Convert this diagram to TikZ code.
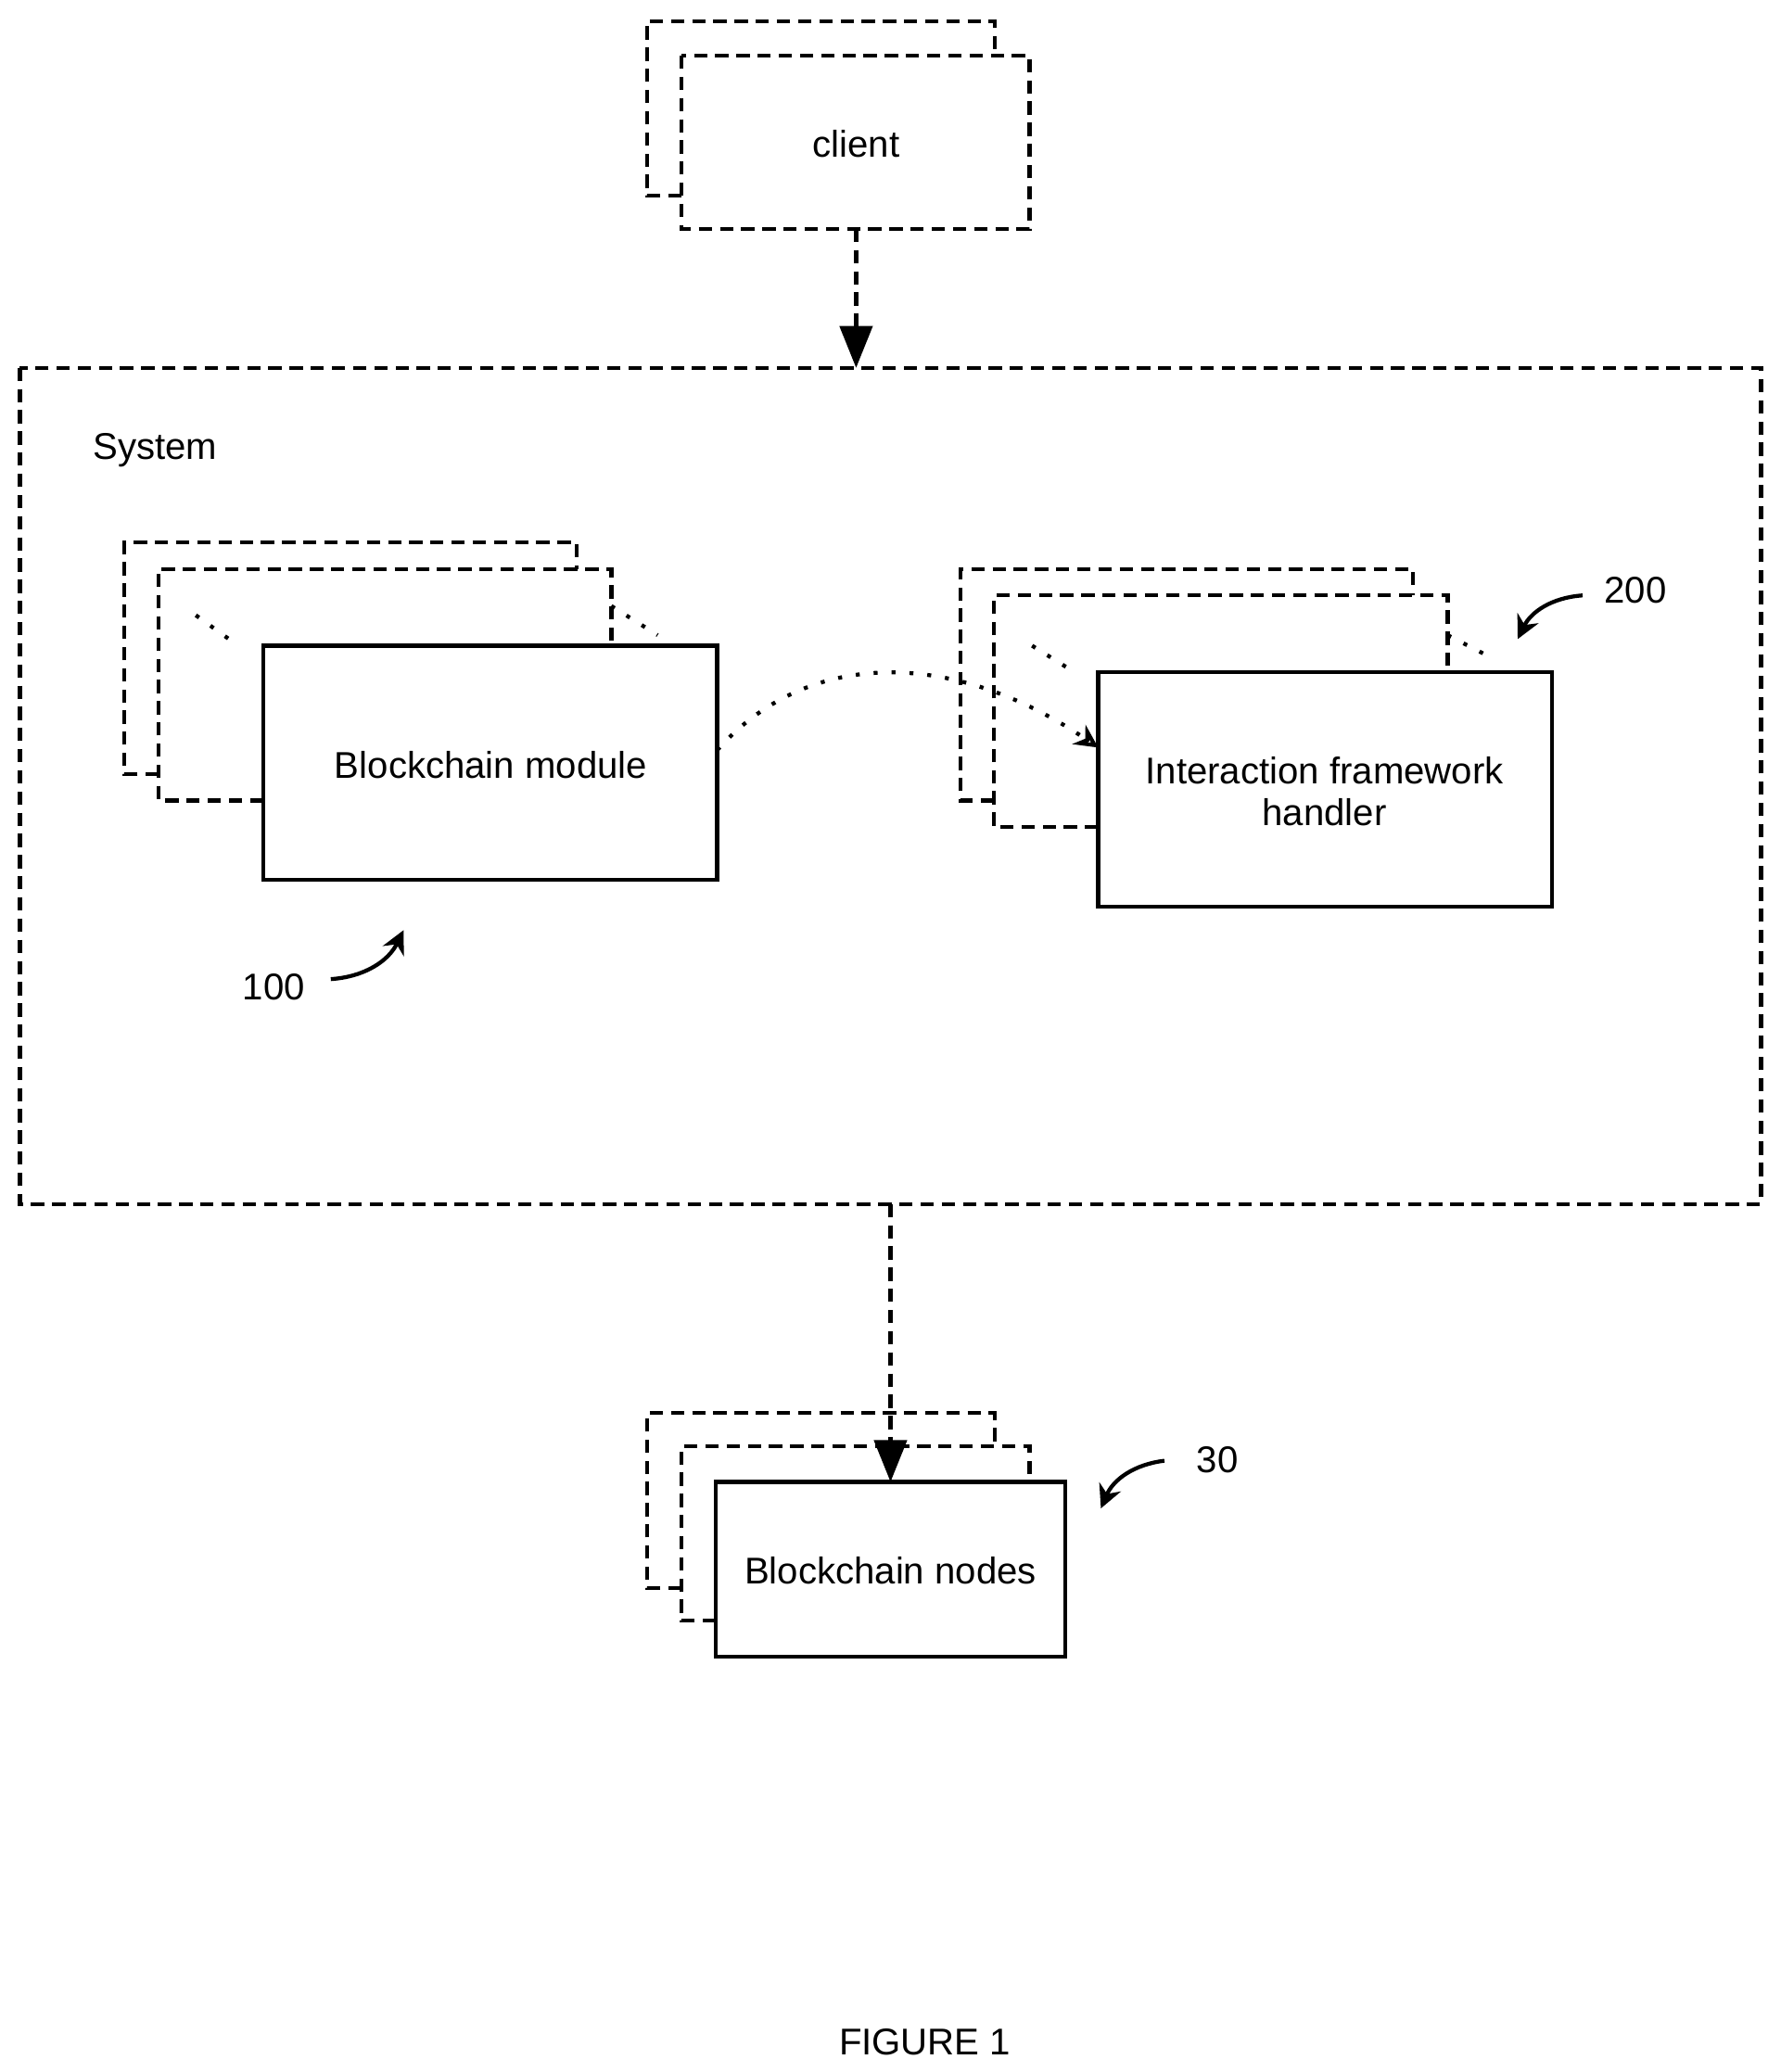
\documentclass[tikz,border=0pt]{standalone}
\usepackage{fontspec}
\setmainfont{Liberation Sans}
\usetikzlibrary{arrows.meta}
\begin{document}
\begin{tikzpicture}[x=0.01cm,y=-0.01cm,
 dsh/.style={line width=0.85pt,dash pattern=on 0.1cm off 0.06cm},
 sol/.style={line width=0.85pt},
 dot/.style={line width=0.85pt,dash pattern=on 0.85pt off 3pt},
 lbl/.style={font=\fontsize{8}{10}\selectfont,align=center},
 cur/.style={line width=0.85pt,-{Stealth[length=5pt,width=5pt]}}]
\useasboundingbox (0,0) rectangle (1346,1566);
% client
\draw[dsh] (515,148)--(489,148)--(489,16)--(752,16)--(752,42);
\draw[dsh] (515,42) rectangle (778,173);
\node[lbl] (client) at (647,109) {client};
\coordinate (cb) at (647,173);
% system
\draw[dsh] (15,278) rectangle (1331,910);
\coordinate (st) at (647,278);
\coordinate (sb) at (673,910);
\node[lbl,anchor=west] (sys) at (58,340) {System};
\draw[dsh,-{Triangle[length=9pt,width=7pt]}] (cb)--(st);
% blockchain module
\draw[dsh] (120,585)--(94,585)--(94,410)--(436,410)--(436,430);
\draw[dsh] (199,605)--(120,605)--(120,430)--(462,430)--(462,488);
\draw[dot] (148,465)--(180,488);
\draw[dot] (462,458)--(497,480);
\draw[sol,fill=white] (199,488) rectangle (542,665);
\node[lbl] (bm) at (371,578) {Blockchain module};
% interaction
\draw[dsh] (751,605)--(726,605)--(726,430)--(1068,430)--(1068,450);
\draw[dsh] (830,625)--(751,625)--(751,450)--(1094,450)--(1094,508);
\draw[dot] (780,488)--(812,508);
\draw[dot] (1094,480)--(1127,497);
\draw[sol] (830,508) rectangle (1173,685);
\node[lbl] (ifh) at (1001,598) {Interaction framework\\[-1pt]handler};
\coordinate (bmr) at (542,567);
\coordinate (ifl) at (830,565);
\draw[dot,-{Stealth[length=5pt,width=5pt,open]}] (bmr) .. controls (610,490) and (720,490) .. (ifl);
% labels
\node[lbl] (l200) at (1236,446) {200};
\draw[cur] (1196,450) to[bend right=30] (1147,483);
\node[lbl] (l100) at (207,746) {100};
\draw[cur] (250,740) to[bend right=30] (305,703);
% nodes
\draw[dsh] (515,1200)--(489,1200)--(489,1068)--(752,1068)--(752,1093);
\draw[dsh] (541,1225)--(515,1225)--(515,1093)--(778,1093)--(778,1120);
\draw[sol] (541,1120) rectangle (805,1252);
\node[lbl] (bn) at (673,1187) {Blockchain nodes};
\coordinate (bnt) at (673,1120);
\draw[dsh,-{Triangle[length=9pt,width=7pt]}] (sb)--(bnt);
\node[lbl] (l30) at (920,1103) {30};
\draw[cur] (880,1104) to[bend right=30] (832,1140);
\node[lbl] (fig) at (699,1543) {FIGURE 1};
\end{tikzpicture}
\end{document}
